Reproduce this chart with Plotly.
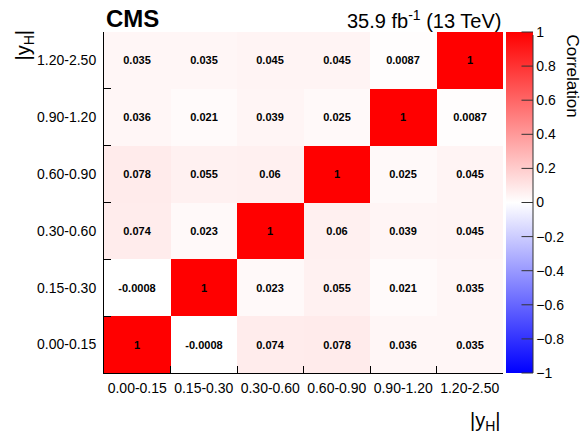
import plotly.graph_objects as go

bins = ["0.00-0.15", "0.15-0.30", "0.30-0.60", "0.60-0.90", "0.90-1.20", "1.20-2.50"]

# rows: y bins from bottom (0.00-0.15) to top (1.20-2.50); columns: x bins
corr = [
    [1, -0.0008, 0.074, 0.078, 0.036, 0.035],
    [-0.0008, 1, 0.023, 0.055, 0.021, 0.035],
    [0.074, 0.023, 1, 0.06, 0.039, 0.045],
    [0.078, 0.055, 0.06, 1, 0.025, 0.045],
    [0.036, 0.021, 0.039, 0.025, 1, 0.0087],
    [0.035, 0.035, 0.045, 0.045, 0.0087, 1],
]
labels = [[format(v, "g") for v in row] for row in corr]

colorbar_ticks = [-1, -0.8, -0.6, -0.4, -0.2, 0, 0.2, 0.4, 0.6, 0.8, 1]
ZMIN, ZMAX = -1, 1

FONT = "Liberation Sans, Arial, Helvetica, sans-serif"

fig = go.Figure(
    go.Heatmap(
        z=corr,
        x=bins,
        y=bins,
        text=labels,
        texttemplate="%{text}",
        textfont=dict(family=FONT, size=11, color="black", weight="bold"),
        zmin=ZMIN,
        zmax=ZMAX,
        colorscale=[[0, "rgb(0,0,255)"], [0.5, "rgb(255,255,255)"], [1, "rgb(255,0,0)"]],
        colorbar=dict(
            x=1.0075,
            xanchor="left",
            xpad=0,
            y=0.5,
            yanchor="middle",
            len=1,
            lenmode="fraction",
            ypad=0,
            thickness=27,
            outlinewidth=0,
            tickvals=colorbar_ticks,
            ticks="",
            tickfont=dict(family=FONT, size=14, color="black"),
        ),
        hoverongaps=False,
    )
)

annotations = [
    dict(text="<b>CMS</b>", xref="paper", yref="paper", x=0, y=1, xanchor="left",
         yanchor="bottom", yshift=-2, showarrow=False, font=dict(size=24, family=FONT)),
    dict(text="35.9 fb<sup>-1</sup> (13 TeV)", xref="paper", yref="paper", x=1, y=1,
         xanchor="right", yanchor="bottom", yshift=-2, showarrow=False,
         font=dict(size=20, family=FONT)),
    dict(text="|y<sub>H</sub>|", xref="paper", yref="paper", x=1, y=0, xanchor="right",
         yanchor="top", yshift=-34, showarrow=False, font=dict(size=20, family=FONT)),
    dict(text="|y<sub>H</sub>|", xref="paper", yref="paper", x=0, y=1, xanchor="center",
         yanchor="top", xshift=-80, yshift=4, textangle=-90, showarrow=False,
         font=dict(size=20, family=FONT)),
    dict(text="Correlation", xref="paper", yref="paper", x=1, y=1, xanchor="center",
         yanchor="top", xshift=69, yshift=0, textangle=90, showarrow=False,
         font=dict(size=17, family=FONT)),
]

# colorbar axis (ROOT palette-axis style): right-edge line and inward tick marks,
# drawn as arrow-only annotations so they sit above the colour bar
cb_right = (533 - 104) / 399.0
annotations.append(dict(x=cb_right, y=0, xref="paper", yref="paper", ax=0, ay=-340,
                        text=" ", font=dict(size=1), showarrow=True, arrowhead=0,
                        arrowwidth=1, arrowcolor="#333333", standoff=0, startstandoff=0))
for v in colorbar_ticks:
    yp = (v - ZMIN) / (ZMAX - ZMIN)
    annotations.append(dict(x=cb_right, y=yp, xref="paper", yref="paper", ax=-13, ay=0,
                            text=" ", font=dict(size=1), showarrow=True, arrowhead=0,
                            arrowwidth=1, arrowcolor="#333333", standoff=0,
                            startstandoff=0))

fig.update_layout(
    width=581,
    height=438,
    margin=dict(l=104, r=78, t=32, b=65, autoexpand=False),
    paper_bgcolor="white",
    plot_bgcolor="white",
    font=dict(family=FONT, color="black"),
    xaxis=dict(
        type="category",
        tickson="boundaries",
        ticks="inside",
        ticklen=7,
        tickcolor="black",
        tickangle=0,
        automargin=False,
        showline=True,
        linecolor="black",
        linewidth=1,
        mirror=False,
        showgrid=False,
        zeroline=False,
        tickfont=dict(size=14, family=FONT, color="black"),
        ticklabelstandoff=2,
    ),
    yaxis=dict(
        type="category",
        tickson="boundaries",
        ticks="inside",
        ticklen=7,
        tickcolor="black",
        automargin=False,
        showline=True,
        linecolor="black",
        linewidth=1,
        mirror=False,
        showgrid=False,
        zeroline=False,
        tickfont=dict(size=14, family=FONT, color="black"),
        ticklabelstandoff=4,
    ),
    annotations=annotations,
)

fig.write_html(
    "out.html",
    config={"displayModeBar": False},
    post_script="document.body.style.margin='0';document.body.style.padding='0';",
)
